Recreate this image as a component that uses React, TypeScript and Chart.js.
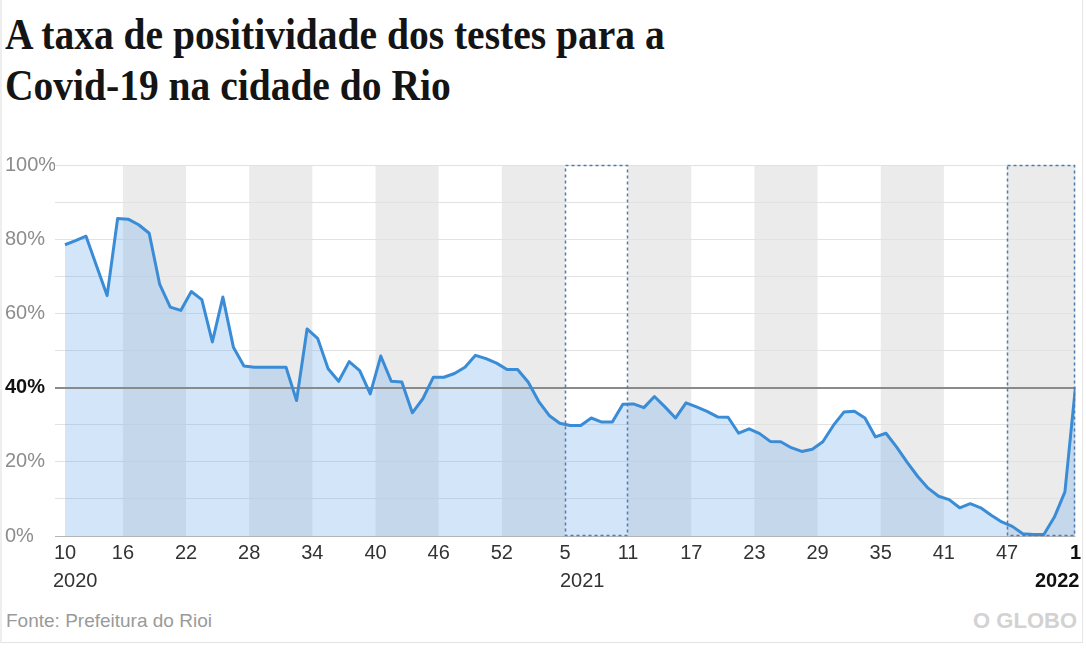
import React, { useEffect, useRef, useState } from 'react';
import { Chart, registerables } from 'chart.js';

Chart.register(...registerables);

// ---------- texts ----------
const titleLines = ['A taxa de positividade dos testes para a', 'Covid-19 na cidade do Rio'];
const sourceText = 'Fonte: Prefeitura do Rioi';
const brandText = 'O GLOBO';

// ---------- data ----------
// Weekly test positivity (%) in Rio, epidemiological week 10/2020 .. week 1/2022 (one value per week)
const positivity = [
  78.5, 79.6, 80.8, 72.8, 64.8, 85.6, 85.4, 83.9, 81.6, 67.8,
  61.7, 60.8, 65.9, 63.7, 52.3, 64.4, 50.9, 45.8, 45.5, 45.5,
  45.5, 45.5, 36.5, 55.8, 53.3, 45.1, 41.7, 47.0, 44.6, 38.3,
  48.5, 41.7, 41.5, 33.2, 37.0, 42.8, 42.8, 43.8, 45.5, 48.7,
  47.8, 46.6, 44.9, 44.9, 41.5, 36.3, 32.5, 30.4, 29.8, 29.8,
  31.8, 30.7, 30.7, 35.5, 35.6, 34.6, 37.6, 34.8, 31.8, 35.9,
  34.8, 33.6, 32.1, 32.0, 27.7, 28.9, 27.6, 25.5, 25.4, 23.8,
  22.8, 23.4, 25.4, 29.8, 33.4, 33.6, 31.8, 26.7, 27.7, 24.0,
  19.9, 16.1, 12.9, 10.7, 9.8, 7.6, 8.7, 7.6, 5.6, 3.8,
  2.6, 0.6, 0.4, 0.4, 5.1, 11.9, 40.1,
];

// x-axis tick labels (epidemiological week numbers) and where they sit in the weekly series
const xTickLabels = ['10', '16', '22', '28', '34', '40', '46', '52', '5', '11', '17', '23', '29', '35', '41', '47', '1'];
const xTickWeekIndex = [0, 5.5, 11.5, 17.5, 23.5, 29.5, 35.5, 41.5, 47.5, 53.5, 59.5, 65.5, 71.5, 77.5, 83.5, 89.5, 96];
const yearLabels = ['2020', '2021', '2022'];
const yearWeekIndex = [0, 47.5, 96];

// alternating 6-week shaded bands and the two highlighted (dotted) periods, in week-index units
const shadedBandStart = [5.5, 17.5, 29.5, 41.5, 53.5, 65.5, 77.5, 89.5];
const shadedBandEnd = [11.5, 23.5, 35.5, 47.5, 59.5, 71.5, 83.5, 96];
const highlightStart = [47.5, 89.5];
const highlightEnd = [53.5, 96];

// y axis
const yLabelledTicks = [0, 20, 40, 60, 80, 100];
const referenceLevel = 40;

const AXIS_FONT = "'Liberation Sans', Arial, Helvetica, sans-serif";

export default function App() {
  const canvasRef = useRef<HTMLCanvasElement | null>(null);
  const line1Ref = useRef<HTMLSpanElement | null>(null);
  const [titleScale, setTitleScale] = useState(0.7);

  useEffect(() => {
    document.body.style.margin = '0';
    if (line1Ref.current) {
      const w = line1Ref.current.offsetWidth; // layout width, unaffected by transforms
      if (w > 0) setTitleScale(660 / w);
    }
  }, []);

  useEffect(() => {
    const canvas = canvasRef.current;
    if (!canvas) return;
    const lastTick = xTickLabels.length - 1;

    const bandsPlugin = {
      id: 'bands',
      beforeDraw(chart: any) {
        const { ctx, chartArea, scales } = chart;
        const xs = scales.x;
        ctx.save();
        ctx.fillStyle = '#ebebeb';
        shadedBandStart.forEach((s, i) => {
          const x0 = xs.getPixelForValue(s);
          const x1 = xs.getPixelForValue(shadedBandEnd[i]);
          ctx.fillRect(x0, chartArea.top, x1 - x0, chartArea.bottom - chartArea.top);
        });
        ctx.restore();
      },
    };

    const referencePlugin = {
      id: 'reference',
      beforeDatasetsDraw(chart: any) {
        const { ctx, chartArea, scales } = chart;
        const y = Math.round(scales.y.getPixelForValue(referenceLevel));
        ctx.save();
        ctx.strokeStyle = '#8a8a8a';
        ctx.lineWidth = 2;
        ctx.beginPath();
        ctx.moveTo(chartArea.left, y);
        ctx.lineTo(chartArea.right, y);
        ctx.stroke();
        ctx.restore();
      },
    };

    const highlightPlugin = {
      id: 'highlight',
      afterDatasetsDraw(chart: any) {
        const { ctx, chartArea, scales } = chart;
        const xs = scales.x;
        ctx.save();
        ctx.strokeStyle = '#4f7cae';
        ctx.lineWidth = 1.5;
        ctx.setLineDash([3, 3]);
        highlightStart.forEach((s, i) => {
          const x0 = Math.round(xs.getPixelForValue(s)) + 0.5;
          const x1 = Math.round(xs.getPixelForValue(highlightEnd[i])) - 0.5;
          ctx.strokeRect(x0, chartArea.top + 0.5, x1 - x0, chartArea.bottom - chartArea.top - 1);
        });
        ctx.restore();
      },
    };

    const yearPlugin = {
      id: 'years',
      afterDraw(chart: any) {
        const { ctx, chartArea, scales } = chart;
        const xs = scales.x;
        const y = chartArea.bottom + 45;
        ctx.save();
        ctx.textBaseline = 'middle';
        yearLabels.forEach((label, i) => {
          const px = xs.getPixelForValue(yearWeekIndex[i]);
          const isLast = i === yearLabels.length - 1;
          ctx.font = `${isLast ? 'bold ' : ''}20px ${AXIS_FONT}`;
          ctx.fillStyle = isLast ? '#111111' : '#333333';
          if (i === 0) {
            ctx.textAlign = 'left';
            ctx.fillText(label, px - 12, y);
          } else if (isLast) {
            ctx.textAlign = 'right';
            ctx.fillText(label, px + 4, y);
          } else {
            ctx.textAlign = 'left';
            ctx.fillText(label, px - 5, y);
          }
        });
        ctx.restore();
      },
    };

    const chart = new Chart(canvas, {
      type: 'line',
      data: {
        datasets: [
          {
            label: 'Taxa de positividade',
            data: positivity.map((v, i) => ({ x: i, y: v })),
            borderColor: '#3a8cd6',
            borderWidth: 3,
            backgroundColor: 'rgba(110,170,235,0.3)',
            fill: 'origin',
            pointRadius: 0,
            tension: 0,
            borderJoinStyle: 'round',
          },
        ],
      },
      options: {
        animation: false,
        responsive: false,
        maintainAspectRatio: false,
        devicePixelRatio: 1,
        layout: { padding: { top: 25, left: 5, right: 8, bottom: 0 } },
        plugins: {
          legend: { display: false },
          tooltip: { enabled: false },
          title: { display: false },
          filler: { drawTime: 'beforeDatasetsDraw' },
        } as any,
        scales: {
          x: {
            type: 'linear',
            min: -0.95,
            max: 96,
            grid: { display: false, drawTicks: false },
            border: { display: false },
            afterBuildTicks: (s: any) => {
              s.ticks = xTickWeekIndex.map((v) => ({ value: v }));
            },
            afterFit: (s: any) => {
              s.height = 64;
            },
            ticks: {
              autoSkip: false,
              maxRotation: 0,
              minRotation: 0,
              padding: 5,
              color: (c: any) => (c.index === lastTick ? '#111111' : '#333333'),
              font: (c: any) => ({ family: AXIS_FONT, size: 20, weight: c.index === lastTick ? 'bold' : 'normal' }),
              callback: (_v: any, i: number) => xTickLabels[i],
            },
          },
          y: {
            min: 0,
            max: 100,
            grid: {
              drawTicks: false,
              color: (c: any) => (c.tick && c.tick.value === 0 ? '#b5b5b5' : '#e2e2e2'),
              lineWidth: 1,
            },
            border: { display: false },
            afterFit: (s: any) => {
              s.width = 50;
            },
            ticks: {
              stepSize: 10,
              padding: 0,
              crossAlign: 'far',
              color: (c: any) => (c.tick && c.tick.value === referenceLevel ? '#111111' : '#8c8c8c'),
              font: (c: any) => ({
                family: AXIS_FONT,
                size: 20,
                weight: c.tick && c.tick.value === referenceLevel ? 'bold' : 'normal',
              }),
              callback: (v: any) => (yLabelledTicks.includes(Number(v)) ? `${v}%` : ''),
            },
          },
        },
      } as any,
      plugins: [bandsPlugin, referencePlugin, highlightPlugin, yearPlugin],
    });

    return () => chart.destroy();
  }, []);

  return (
    <div
      style={{
        position: 'absolute',
        left: 0,
        top: 0,
        width: 1086,
        height: 652,
        background: '#ffffff',
        overflow: 'hidden',
      }}
    >
      <div
        style={{
          position: 'absolute',
          left: 0,
          top: 0,
          width: 1083,
          height: 643,
          borderLeft: '2px solid #eeeeee',
          borderRight: '1px solid #e6e6e6',
          borderBottom: '1px solid #e3e3e3',
          boxSizing: 'border-box',
        }}
      />
      <div
        style={{
          position: 'absolute',
          left: 5,
          top: 9,
          fontFamily: "'Liberation Serif', 'Times New Roman', serif",
          fontWeight: 'bold',
          fontSize: 44,
          lineHeight: '51px',
          color: '#141414',
          whiteSpace: 'nowrap',
          transform: `scaleX(${titleScale})`,
          transformOrigin: 'left top',
        }}
      >
        <span ref={line1Ref} style={{ display: 'inline-block' }}>
          {titleLines[0]}
        </span>
        <br />
        <span style={{ display: 'inline-block' }}>{titleLines[1]}</span>
      </div>
      <canvas
        ref={canvasRef}
        width={1086}
        height={460}
        style={{ position: 'absolute', left: 0, top: 140, width: 1086, height: 460 }}
      />
      <div
        style={{
          position: 'absolute',
          left: 6,
          top: 610,
          fontFamily: AXIS_FONT,
          fontSize: 19,
          lineHeight: '22px',
          color: '#9a9a9a',
          whiteSpace: 'nowrap',
        }}
      >
        {sourceText}
      </div>
      <div
        style={{
          position: 'absolute',
          right: 9,
          top: 608,
          fontFamily: AXIS_FONT,
          fontSize: 22,
          fontWeight: 'bold',
          lineHeight: '26px',
          color: '#d2d2d2',
          whiteSpace: 'nowrap',
        }}
      >
        {brandText}
      </div>
    </div>
  );
}
